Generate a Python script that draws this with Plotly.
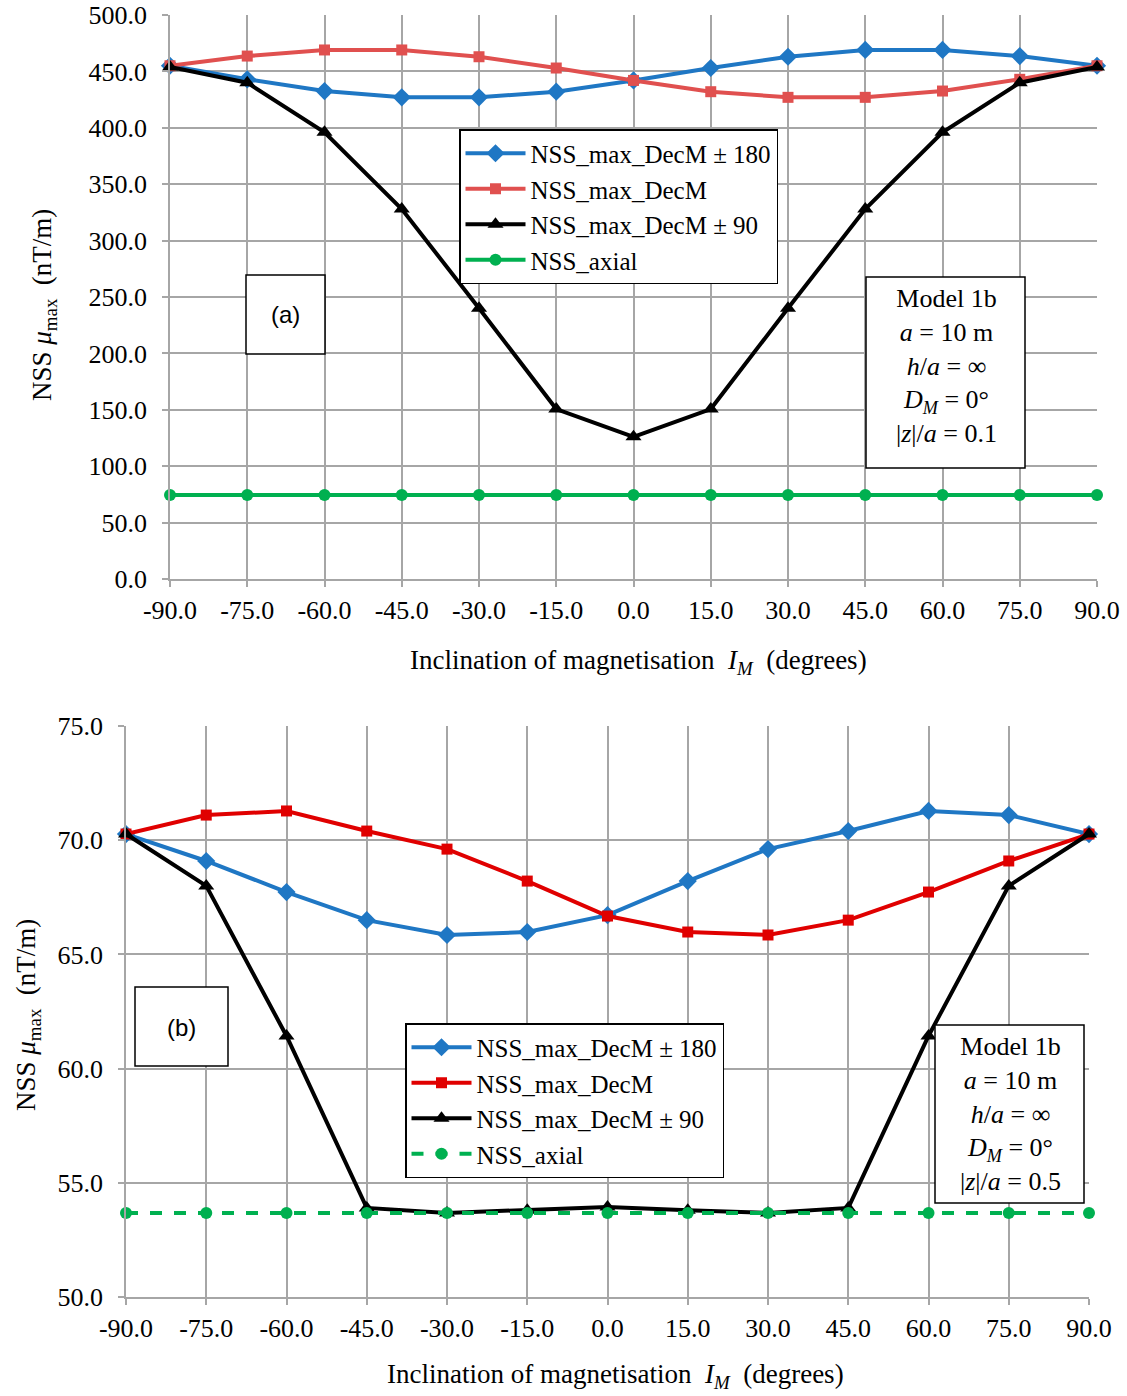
import plotly.graph_objects as go

W, H = 1127, 1396

incl = [-90, -75, -60, -45, -30, -15, 0, 15, 30, 45, 60, 75, 90]
x_ticks = incl
x_ticktext = [f"{v:.1f}" for v in x_ticks]

# Panel (a): |z|/a = 0.1
a_dec180 = [455, 443, 432.6, 427, 427, 432, 442, 453, 463, 469, 469, 463.6, 455]
a_dec = [455, 463.6, 469, 469, 463, 453, 442, 432, 427, 427, 432.6, 443, 455]
a_dec90 = [454, 440, 396, 328, 240, 150.7, 126, 150.7, 240, 328, 396, 440, 454]
a_axial = [74.5] * 13
a_yticks = [0, 50, 100, 150, 200, 250, 300, 350, 400, 450, 500]

# Panel (b): |z|/a = 0.5
b_dec180 = [70.27, 69.09, 67.73, 66.5, 65.85, 65.98, 66.72, 68.21, 69.61, 70.4, 71.28, 71.1, 70.27]
b_dec = [70.27, 71.1, 71.28, 70.4, 69.61, 68.21, 66.68, 65.98, 65.85, 66.5, 67.73, 69.09, 70.27]
b_dec90 = [70.27, 68.0, 61.43, 53.9, 53.68, 53.8, 53.94, 53.8, 53.68, 53.9, 61.43, 68.0, 70.27]
b_axial = [53.68] * 13
b_yticks = [50, 55, 60, 65, 70, 75]

names = ["NSS_max_DecM ± 180", "NSS_max_DecM", "NSS_max_DecM ± 90", "NSS_axial"]

SERIF = "Liberation Serif"
BLUE = "#1F77C4"
RED_A = "#E0504F"
RED_B = "#E00000"
BLACK = "#000000"
GREEN = "#00B050"
GRID = "#A6A6A6"

def px(xp):
    return xp / W

def py(yp):
    return 1 - yp / H

fig = go.Figure()

def add_set(xa, ya, leg, ys, red, green_dash):
    specs = [
        (ys[0], BLUE, "diamond", 14, "solid"),
        (ys[1], red, "square", 11, "solid"),
        (ys[2], BLACK, "triangle-up", 14, "solid"),
        (ys[3], GREEN, "circle", 12, green_dash),
    ]
    for (vals, col, sym, sz, dash), nm in zip(specs, names):
        fig.add_trace(go.Scatter(
            x=incl, y=vals, name=nm, mode="lines+markers",
            xaxis=xa, yaxis=ya, legend=leg,
            line=dict(color=col, width=4, dash=dash),
            marker=dict(symbol=sym, size=sz, color=col),
            cliponaxis=False,
        ))

add_set("x", "y", "legend", [a_dec180, a_dec, a_dec90, a_axial], RED_A, "solid")
add_set("x2", "y2", "legend2", [b_dec180, b_dec, b_dec90, b_axial], RED_B, "dash")

axis_common = dict(
    showgrid=True, gridcolor=GRID, gridwidth=1.5,
    showline=True, linecolor=GRID, linewidth=1.5,
    ticks="outside", ticklen=6, tickcolor=GRID, tickwidth=1.5,
    tickfont=dict(family=SERIF, size=26, color="black"),
    zeroline=False, automargin=False,
)

fig.update_layout(
    width=W, height=H,
    margin=dict(l=0, r=0, t=0, b=0),
    paper_bgcolor="white", plot_bgcolor="white",
    showlegend=True,
    xaxis=dict(domain=[px(170), px(1097)], range=[-90, 90], anchor="y",
               tickvals=x_ticks, ticktext=x_ticktext, ticklabelstandoff=1, **axis_common),
    yaxis=dict(domain=[py(579), py(15)], range=[0, 500], anchor="x",
               tickvals=a_yticks, tickformat=".1f", ticklabelstandoff=10, **axis_common),
    xaxis2=dict(domain=[px(126), px(1089)], range=[-90, 90], anchor="y2",
                tickvals=x_ticks, ticktext=x_ticktext, ticklabelstandoff=1, **axis_common),
    yaxis2=dict(domain=[py(1297), py(726)], range=[50, 75], anchor="x2",
                tickvals=b_yticks, tickformat=".1f", ticklabelstandoff=10, **axis_common),
    legend=dict(x=px(459), y=py(129), xanchor="left", yanchor="top",
                bgcolor="white", bordercolor="black", borderwidth=1.5,
                font=dict(family=SERIF, size=25, color="black"),
                itemwidth=60, tracegroupgap=0),
    legend2=dict(x=px(405), y=py(1023), xanchor="left", yanchor="top",
                 bgcolor="white", bordercolor="black", borderwidth=1.5,
                 font=dict(family=SERIF, size=25, color="black"),
                 itemwidth=60, tracegroupgap=0),
)

# boxes
shapes = []
for (x0, y0, x1, y1) in [(246, 275, 325, 354), (866, 277, 1025, 468),
                         (135, 987, 228, 1066), (935, 1025, 1084, 1203)]:
    shapes.append(dict(type="rect", xref="paper", yref="paper",
                       x0=px(x0), x1=px(x1), y0=py(y1), y1=py(y0),
                       line=dict(color="black", width=1.5), fillcolor="white",
                       layer="above"))
fig.update_layout(shapes=shapes)

ann = []
def add_text(xp, yp, text, font, angle=0):
    ann.append(dict(x=px(xp), y=py(yp), xref="paper", yref="paper", text=text,
                    showarrow=False, font=font, textangle=angle,
                    xanchor="center", yanchor="middle"))

serif_m = dict(family=SERIF, size=26, color="black")
serif_t = dict(family=SERIF, size=27, color="black")
sans = dict(family="Liberation Sans", size=24, color="black")

add_text(285, 315, "(a)", sans)
add_text(181, 1027, "(b)", sans)

model_a = ("Model 1b<br><i>a</i> = 10 m<br><i>h</i>/<i>a</i> = ∞<br>"
           "<i>D<sub>M</sub></i> = 0°<br>|<i>z</i>|/<i>a</i> = 0.1")
model_b = ("Model 1b<br><i>a</i> = 10 m<br><i>h</i>/<i>a</i> = ∞<br>"
           "<i>D<sub>M</sub></i> = 0°<br>|<i>z</i>|/<i>a</i> = 0.5")
add_text(946, 366, model_a, serif_m)
add_text(1010, 1114, model_b, serif_m)

xtitle = "Inclination of magnetisation  <i>I<sub>M</sub></i>  (degrees)"
add_text(638, 662, xtitle, serif_t)
add_text(615, 1376, xtitle, serif_t)

ytitle = "NSS <i>μ</i><sub>max</sub>  (nT/m)"
add_text(44, 305, ytitle, serif_t, -90)
add_text(28, 1015, ytitle, serif_t, -90)

fig.update_layout(annotations=ann)

fig.write_html("out.html")
